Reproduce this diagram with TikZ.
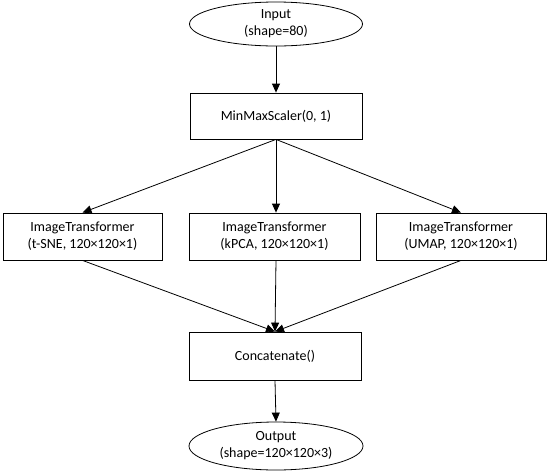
\documentclass[tikz,border=0pt]{standalone}
\usepackage{fontspec}
\setmainfont{Carlito}
\usetikzlibrary{shapes.geometric,arrows.meta}
\begin{document}
\begin{tikzpicture}[x=1pt,y=-1pt,
  every node/.style={font=\fontsize{14}{17}\selectfont, align=center, draw, line width=0.8pt, inner sep=0pt},
  blk/.style={rectangle},
  ell/.style={ellipse},
  arr/.style={line width=0.8pt, -{Triangle[length=9pt,width=8pt]}}]
\useasboundingbox (0,0) rectangle (550,475);
\node[ell, minimum width=173pt, minimum height=44pt] (in) at (276,24) {Input\\(shape=80)};
\node[blk, minimum width=172pt, minimum height=46pt] (mm) at (276,116) {MinMaxScaler(0, 1)};
\node[blk, minimum width=159pt, minimum height=47pt] (t1) at (82.5,236.5) {ImageTransformer\\(t-SNE, 120×120×1)};
\node[blk, minimum width=171pt, minimum height=47pt] (t2) at (274.5,236.5) {ImageTransformer\\(kPCA, 120×120×1)};
\node[blk, minimum width=170pt, minimum height=47pt] (t3) at (461,236.5) {ImageTransformer\\(UMAP, 120×120×1)};
\node[blk, minimum width=172pt, minimum height=48pt] (cc) at (275,356) {Concatenate()};
\node[ell, minimum width=174pt, minimum height=48pt] (out) at (276,446) {Output\\(shape=120×120×3)};
\draw[arr] (in.south) -- (mm.north);
\draw[arr] (mm.south) -- (t1.north);
\draw[arr] (mm.south) -- (mm.south |- t2.north);
\draw[arr] (mm.south) -- (t3.north);
\draw[arr] (t1.south) -- (cc.north);
\draw[arr] (mm.south |- t2.south) -- (cc.north);
\draw[arr] (t3.south) -- (cc.north);
\draw[arr] (cc.south) -- (out.north);
\end{tikzpicture}
\end{document}
